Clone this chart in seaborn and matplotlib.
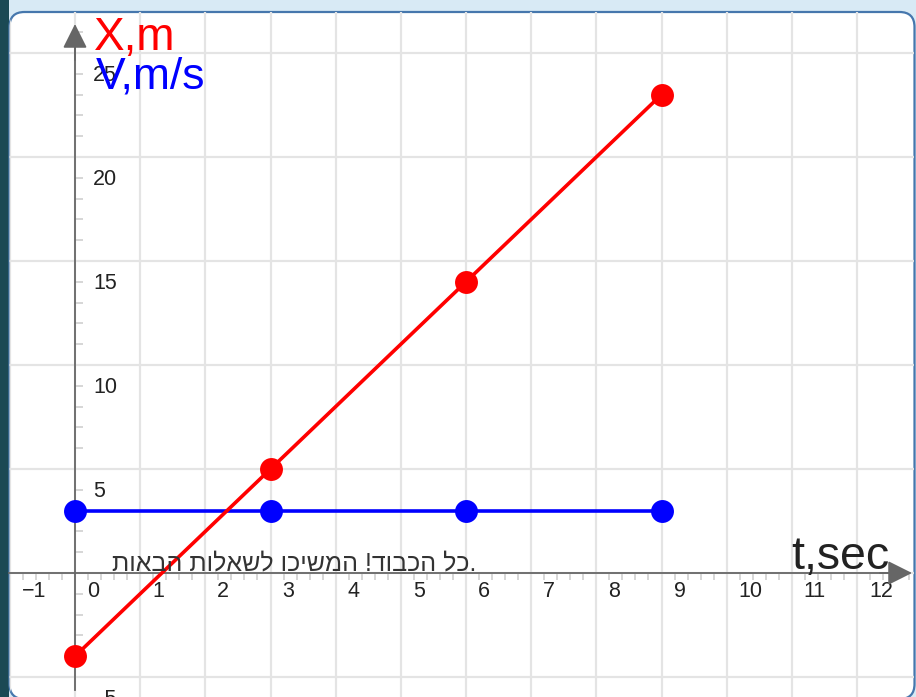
import numpy as np
import pandas as pd
import matplotlib
matplotlib.use("Agg")
import matplotlib.pyplot as plt
import matplotlib.transforms as mtransforms
from matplotlib.patches import FancyBboxPatch, Rectangle
from matplotlib.ticker import FixedLocator
import seaborn as sns

# ---- data ----
t_values = [0, 3, 6, 9]
x_values = [-4, 5, 14, 23]
v_values = [3, 3, 3, 3]
x_tick_values = list(range(-1, 13))
x_tick_labels = ["\u22121", "0", "1", "2", "3", "4", "5", "6", "7", "8", "9", "10", "11", "12"]
y_grid_values = [-5, 0, 5, 10, 15, 20, 25]
y_tick_labels = ["\u22125", "", "5", "10", "15", "20", "25"]
message = "כל הכבוד! המשיכו לשאלות הבאות"

sns.set_theme(style="white")
plt.rcParams["font.family"] = ["Liberation Sans", "DejaVu Sans"]

W, H = 916, 697
fig = plt.figure(figsize=(W / 100, H / 100), dpi=100)
fig.patch.set_facecolor("#d8eaf5")

# left dark strip
fig.patches.append(Rectangle((0, 0), 9 / W, 1, transform=fig.transFigure,
                             facecolor="#1b4954", edgecolor="none", zorder=-2))
# rounded white panel (inches coords)
panel = FancyBboxPatch((0.095, -0.02), 9.05, 6.87,
                       boxstyle="round,pad=0,rounding_size=0.15",
                       transform=fig.dpi_scale_trans, facecolor="white",
                       edgecolor="#4677ad", linewidth=1.6, zorder=-1)
fig.patches.append(panel)

# pixel -> data mapping
ox, oy, sx, sy = 75.0, 573.0, 65.17, 20.8
def dx(px):
    return (px - ox) / sx
def dy(py):
    return (oy - py) / sy

ax = fig.add_axes([9 / W, 0, 905 / W, (H - 12) / H])
ax.set_zorder(2)
ax.patch.set_visible(False)
ax.set_xlim(dx(9), dx(914))
ax.set_ylim(dy(697), dy(12))

df = pd.DataFrame({"t": t_values, "X": x_values, "V": v_values})
sns.lineplot(data=df, x="t", y="V", color="#0000ff", marker="o", markersize=16.5,
             markeredgewidth=0, linewidth=2.6, ax=ax, zorder=5)
sns.lineplot(data=df, x="t", y="X", color="#ff0000", marker="o", markersize=16.5,
             markeredgewidth=0, linewidth=2.6, ax=ax, zorder=6)
ax.set_xlabel("")
ax.set_ylabel("")

# spines as axes through origin
ax.spines["top"].set_visible(False)
ax.spines["bottom"].set_position(("data", 0))
ax.spines["left"].set_position(("data", 0))
ax.spines["right"].set_position(("data", 0))
ax.spines["right"].set_visible(False)
ax.spines["bottom"].set_color("#666666")
ax.spines["left"].set_color("#666666")
ax.spines["bottom"].set_linewidth(1.3)
ax.spines["left"].set_linewidth(1.3)
ax.spines["bottom"].set_bounds(dx(9), dx(895))
ax.spines["left"].set_bounds(dy(690), dy(40))
ax.spines["bottom"].set_zorder(3)
ax.spines["left"].set_zorder(3)

# arrows
ax.annotate("", xy=(dx(912), 0), xytext=(dx(880), 0),
            arrowprops=dict(arrowstyle="-|>,head_length=1.0,head_width=0.5",
                            mutation_scale=15, color="#666666", lw=1.3,
                            shrinkA=0, shrinkB=0), zorder=4)
ax.annotate("", xy=(0, dy(24)), xytext=(0, dy(60)),
            arrowprops=dict(arrowstyle="-|>,head_length=1.0,head_width=0.5",
                            mutation_scale=15, color="#666666", lw=1.3,
                            shrinkA=0, shrinkB=0), zorder=4)

# x ticks
ax.set_xticks(x_tick_values, labels=x_tick_labels)
ax.xaxis.set_minor_locator(FixedLocator(
    [v for v in np.round(np.arange(-1, 12.9, 0.2), 1) if abs(v - round(v)) > 1e-6]))
ax.tick_params(axis="x", which="major", length=0, pad=6, labelsize=15.5, labelcolor="#222222")
ax.tick_params(axis="x", which="minor", length=5, width=1.2, color="#d0d0d0", direction="out",
               bottom=True)
xoff = mtransforms.ScaledTranslation(0.12, 0, fig.dpi_scale_trans)
for lab in ax.get_xticklabels():
    lab.set_horizontalalignment("left")
    lab.set_transform(lab.get_transform() + xoff)

# y ticks
ax.set_yticks(y_grid_values, labels=y_tick_labels)
ax.yaxis.set_minor_locator(FixedLocator(
    [v for v in range(-5, 27) if v % 5 != 0]))
ax.tick_params(axis="y", which="major", left=False, right=False, labelleft=False,
               labelright=True, pad=7, labelsize=15.5, labelcolor="#222222")
ax.tick_params(axis="y", which="minor", left=False, right=True, length=6, width=1.2,
               color="#d0d0d0", direction="out")
yoff = mtransforms.ScaledTranslation(0, -0.2, fig.dpi_scale_trans)
for lab in ax.get_yticklabels():
    lab.set_transform(lab.get_transform() + yoff)

# grid
ax.grid(True, which="major", color="#e4e4e4", linewidth=1.6, zorder=0)
for gl in ax.get_xgridlines() + ax.get_ygridlines():
    gl.set_clip_path(panel)
ax.set_axisbelow(True)

# labels
ax.text(dx(94), dy(50), "X,m", color="#ff0000", fontsize=33, ha="left", va="baseline", zorder=7)
ax.text(dx(96), dy(89), "V,m/s", color="#0000ff", fontsize=32, ha="left", va="baseline", zorder=7)
ax.text(dx(791), dy(569), "t,sec", color="#222222", fontsize=33.5, ha="left", va="baseline", zorder=7)

# hebrew message (visual order for LTR rendering)
ax.text(dx(476), dy(570), message[::-1] + ".", color="#333333", fontsize=18,
        ha="right", va="baseline", zorder=7)

fig.savefig("out.png", dpi=100, facecolor=fig.get_facecolor())
